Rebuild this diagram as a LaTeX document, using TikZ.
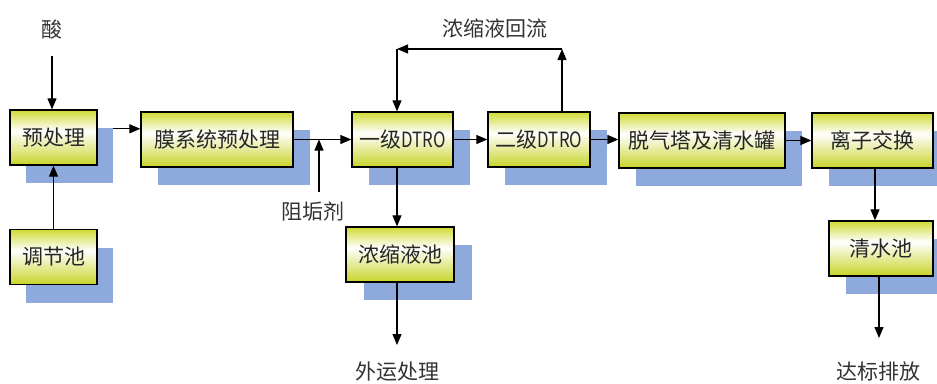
\documentclass[tikz,border=0pt]{standalone}
\usepackage{fontspec}
\setmainfont{Noto Sans CJK SC}
\newfontfamily\narrowlat[FakeStretch=0.8]{Noto Sans CJK SC}
\usetikzlibrary{arrows.meta}
\definecolor{ylwA}{RGB}{208,218,52}
\definecolor{ylwB}{RGB}{200,212,40}
\definecolor{shd}{RGB}{142,170,220}
\pgfdeclareverticalshading{boxshade}{100bp}{color(0bp)=(ylwB); color(25bp)=(ylwB); color(56bp)=(white); color(75bp)=(ylwA); color(100bp)=(ylwA)}
\tikzset{
  procbox/.style={draw=black, line width=1.3pt, shading=boxshade, minimum height=55pt, inner sep=0pt, font=\fontsize{21}{25}\selectfont, text=black!85},
  shadowbox/.style={fill=shd, draw=none, minimum height=55pt, inner sep=0pt},
  lbl/.style={font=\fontsize{21}{25}\selectfont, text=black!80, inner sep=0pt},
  arr/.style={line width=1.2pt, -{Triangle[length=11pt,width=9pt]}}
}
\begin{document}
\begin{tikzpicture}[x=1pt,y=-1pt]
\path[use as bounding box] (0,0) rectangle (937,383);
% shadows
\node[shadowbox, minimum width=87pt] (preS) at (69.5,155.5) {};
\node[shadowbox, minimum width=152pt] (memS) at (234,157.5) {};
\node[shadowbox, minimum width=101pt] (dt1S) at (419.5,157.5) {};
\node[shadowbox, minimum width=102pt] (dt2S) at (556,157.5) {};
\node[shadowbox, minimum width=166pt] (degS) at (719,158.5) {};
\node[shadowbox, minimum width=121pt] (ionS) at (889.5,158.5) {};
\node[shadowbox, minimum width=104pt] (clwS) at (898,266.5) {};
\node[shadowbox, minimum width=87pt] (regS) at (69.5,275) {};
\node[shadowbox, minimum width=108pt] (conS) at (418,272.5) {};
% boxes
\node[procbox, minimum width=87pt] (pre) at (53.5,137.5) {预处理};
\node[procbox, minimum width=152pt] (mem) at (217,139.5) {膜系统预处理};
\node[procbox, minimum width=101pt] (dt1) at (402.5,139.5) {一级{\narrowlat DTRO}};
\node[procbox, minimum width=102pt] (dt2) at (539,139.5) {二级{\narrowlat DTRO}};
\node[procbox, minimum width=166pt] (deg) at (702,140.5) {脱气塔及清水罐};
\node[procbox, minimum width=121pt] (ion) at (872.5,140.5) {离子交换};
\node[procbox, minimum width=104pt] (clw) at (881,248.5) {清水池};
\node[procbox, minimum width=87pt] (reg) at (53.5,257) {调节池};
\node[procbox, minimum width=108pt] (con) at (400,254.5) {浓缩液池};
% labels
\node[lbl] (acid) at (52,30) {酸};
\node[lbl] (reflux) at (495,28) {浓缩液回流};
\node[lbl] (scale) at (313,212) {阻垢剂};
\node[lbl] (out) at (397,372) {外运处理};
\node[lbl] (dis) at (878,372) {达标排放};
% connectors
\draw[arr] (acid.south |- 0,56) -- (acid.south |- pre.north);
\draw[arr] (reg.north) -- (pre.south);
\coordinate (a1) at ([yshift=-1pt]preS.north east);
\draw[arr] (a1) -- (a1 -| mem.west);
\draw[arr] (mem.east) -- (dt1.west);
\coordinate (zg) at (319,192);
\draw[arr] (zg) -- (zg |- mem.east);
\draw[arr] (dt1.east) -- (dt2.west);
\draw[arr] (dt2.east) -- (dt2.east -| deg.west);
\draw[arr] (deg.east) -- (deg.east -| ion.west);
\coordinate (r1) at (562,49);
\coordinate (r2) at (397,49);
\draw[arr] (r1 |- dt2.north) -- (r1);
\draw[arr] (r1) -- (r2);
\draw[arr] (r2) -- (r2 |- dt1.north);
\draw[arr] (r2 |- dt1.south) -- (r2 |- con.north);
\coordinate (o1) at (397,345);
\draw[arr] (o1 |- con.south) -- (o1);
\coordinate (c3) at (875,0);
\draw[arr] (c3 |- ion.south) -- (c3 |- clw.north);
\coordinate (c4) at (879,338);
\draw[arr] (c4 |- clw.south) -- (c4);
\end{tikzpicture}
\end{document}
